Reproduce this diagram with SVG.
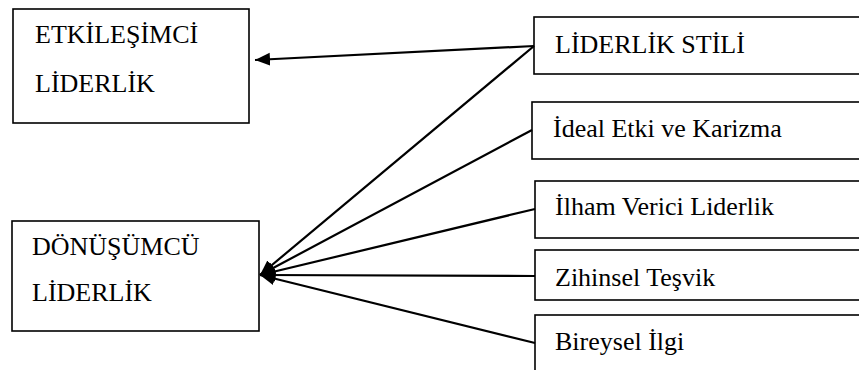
<svg xmlns="http://www.w3.org/2000/svg" width="859" height="370" viewBox="0 0 859 370">
  <style>
    .box { fill: #ffffff; stroke: #000000; stroke-width: 1.6; }
    .lbl { font-family: 'Liberation Serif', Tinos, 'Times New Roman', Times, 'DejaVu Serif', serif; font-size: 26px; fill: #000000; }
    .link { fill: none; stroke: #000000; stroke-width: 2.2; }
  </style>
  <defs>
    <marker id="head" markerUnits="userSpaceOnUse" markerWidth="16" markerHeight="14" refX="15" refY="6.5" orient="auto">
      <path d="M0,0 L15,6.5 L0,13 z" fill="#000000"/>
    </marker>
  </defs>
  <rect width="859" height="370" fill="#ffffff"/>

  <g id="etkilesimci">
    <rect class="box" x="13" y="9" width="236" height="114"/>
    <text class="lbl" x="35" y="43">ETKİLEŞİMCİ</text>
    <text class="lbl" x="35" y="92">LİDERLİK</text>
  </g>

  <g id="donusumcu">
    <rect class="box" x="12" y="221" width="247" height="110"/>
    <text class="lbl" x="32" y="255">DÖNÜŞÜMCÜ</text>
    <text class="lbl" x="32" y="301">LİDERLİK</text>
  </g>

  <g id="liderlik-stili">
    <rect class="box" x="534" y="17" width="340" height="57"/>
    <text class="lbl" x="555" y="53">LİDERLİK STİLİ</text>
  </g>

  <g id="ideal-etki">
    <rect class="box" x="532" y="102" width="342" height="57"/>
    <text class="lbl" x="553" y="137">İdeal Etki ve Karizma</text>
  </g>

  <g id="ilham-verici">
    <rect class="box" x="535" y="181" width="339" height="57"/>
    <text class="lbl" x="555" y="215">İlham Verici Liderlik</text>
  </g>

  <g id="zihinsel-tesvik">
    <rect class="box" x="535" y="250" width="339" height="50"/>
    <text class="lbl" x="555" y="286">Zihinsel Teşvik</text>
  </g>

  <g id="bireysel-ilgi">
    <rect class="box" x="535" y="315" width="339" height="70"/>
    <text class="lbl" x="555" y="350">Bireysel İlgi</text>
  </g>

  <g id="connectors">
    <line class="link" x1="534" y1="46" x2="255" y2="60" marker-end="url(#head)"/>
    <line class="link" x1="534" y1="46" x2="260" y2="275" marker-end="url(#head)"/>
    <line class="link" x1="532" y1="130" x2="260" y2="275" marker-end="url(#head)"/>
    <line class="link" x1="535" y1="209" x2="260" y2="275" marker-end="url(#head)"/>
    <line class="link" x1="535" y1="276" x2="260" y2="275" marker-end="url(#head)"/>
    <line class="link" x1="535" y1="343" x2="260" y2="275" marker-end="url(#head)"/>
  </g>
</svg>
